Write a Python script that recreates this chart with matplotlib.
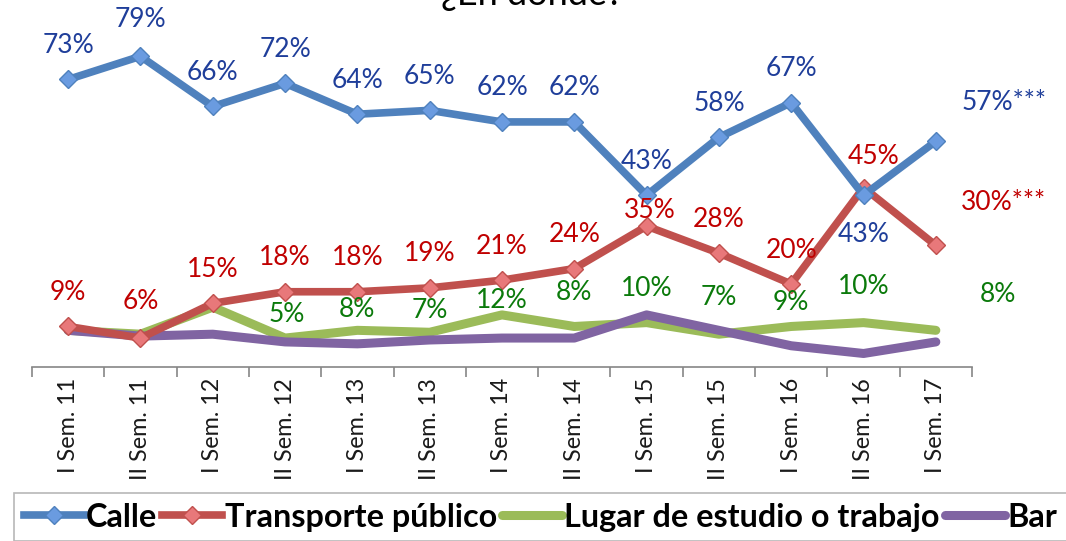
import matplotlib
matplotlib.use("Agg")
import matplotlib.pyplot as plt
from matplotlib.lines import Line2D

plt.rcParams['font.family'] = ['Lato', 'DejaVu Sans']

# data
periodos = ["I Sem. 11", "II Sem. 11", "I Sem. 12", "II Sem. 12", "I Sem. 13",
            "II Sem. 13", "I Sem. 14", "II Sem. 14", "I Sem. 15", "II Sem. 15",
            "I Sem. 16", "II Sem. 16", "I Sem. 17"]
calle = [73, 79, 66, 72, 64, 65, 62, 62, 43, 58, 67, 43, 57]
transporte = [9, 6, 15, 18, 18, 19, 21, 24, 35, 28, 20, 45, 30]
estudio = [8, 7, 14, 6, 8, 7.5, 12, 9, 10, 7, 9, 10, 8]
bar = [8, 6.5, 7, 5, 4.5, 5.5, 6, 6, 12, 8, 4, 2, 5]

calle_lbl = ["73%", "79%", "66%", "72%", "64%", "65%", "62%", "62%", "43%",
             "58%", "67%", "43%", "57%***"]
transp_lbl = ["9%", "6%", "15%", "18%", "18%", "19%", "21%", "24%", "35%",
              "28%", "20%", "45%", "30%***"]
estudio_lbl = ["", "", "", "5%", "8%", "7%", "12%", "8%", "10%", "7%",
               "9%", "10%", "8%"]

# label offsets in pixels (dx, dy up)
calle_off = [(0, 34)] * 13
calle_off[1] = (0, 37)
calle_off[11] = (0, -39)
calle_off[12] = (68, 39)
transp_off = [(0, 34)] * 13
transp_off[1] = (0, 37)
transp_off[8] = (3, 16)
transp_off[11] = (10, 31)
transp_off[12] = (68, 43)
estudio_off = [(0, 24), (0, 24), (0, 24), (2, 24), (0, 21), (0, 22), (0, 14),
               (0, 34), (0, 34), (0, 37), (0, 24), (0, 36), (62, 36)]

W, H = 1066, 541
fig = plt.figure(figsize=(W / 100, H / 100), dpi=100)
ax = fig.add_axes([32 / W, 1 - 367 / H, 940 / W, 357 / H])
x = list(range(len(periodos)))

ax.plot(x, calle, color='#4F81BD', lw=5.5, marker='D', ms=9,
        mfc='#6A9BE0', mec='#4F81BD', mew=1, solid_joinstyle='miter', zorder=4)
ax.plot(x, transporte, color='#C0504D', lw=5.5, marker='D', ms=9,
        mfc='#E8787A', mec='#C0504D', mew=1, solid_joinstyle='miter', zorder=3)
ax.plot(x, estudio, color='#9BBB59', lw=6.5, solid_capstyle='round', zorder=2)
ax.plot(x, bar, color='#8064A2', lw=6.5, solid_capstyle='round', zorder=2.5)


def etiquetas(vals, lbls, offs, color):
    for i, (v, t, o) in enumerate(zip(vals, lbls, offs)):
        if not t:
            continue
        ax.annotate(t, (i, v), xytext=(o[0] * 0.72, o[1] * 0.72),
                    textcoords='offset points', ha='center', va='center',
                    fontsize=19, color=color, zorder=6, annotation_clip=False)


etiquetas(calle, calle_lbl, calle_off, '#1F3E9A')
etiquetas(transporte, transp_lbl, transp_off, '#C00000')
etiquetas(estudio, estudio_lbl, estudio_off, '#0B7A0B')

ax.set_xlim(-0.5, len(periodos) - 0.5)
ax.set_ylim(-1.5, 91)
for s in ['top', 'right', 'left']:
    ax.spines[s].set_visible(False)
ax.spines['bottom'].set_color('#868686')
ax.spines['bottom'].set_linewidth(1.2)
ax.set_yticks([])
ax.set_xticks(x)
ax.set_xticklabels(periodos, rotation=90, fontsize=16.8, color='#1a1a1a')
ax.tick_params(axis='x', which='major', length=0, pad=8)
ax.set_xticks([i - 0.5 for i in range(len(periodos) + 1)], minor=True)
ax.tick_params(axis='x', which='minor', length=7, width=1.2, color='#868686')

# title, cut at the top edge as in the source
fig.text(532 / W, 1 - 5 / H, "¿En dónde?", fontsize=26, ha='center',
         va='baseline', color='black')

handles = [
    Line2D([], [], color='#4F81BD', lw=5.5, marker='D', ms=9, mfc='#6A9BE0', mec='#4F81BD'),
    Line2D([], [], color='#C0504D', lw=5.5, marker='D', ms=9, mfc='#E8787A', mec='#C0504D'),
    Line2D([], [], color='#9BBB59', lw=6.5, solid_capstyle='round'),
    Line2D([], [], color='#8064A2', lw=6.5, solid_capstyle='round'),
]
nombres = ["Calle", "Transporte público", "Lugar de estudio o trabajo", "Bar"]
leg = fig.legend(handles, nombres, loc='upper left', ncol=4,
                 bbox_to_anchor=(14 / W, 1 - 493 / H),
                 prop={'weight': 'bold', 'size': 23.3}, frameon=True, fancybox=False,
                 handlelength=1.85, handletextpad=0.08, columnspacing=0.15,
                 borderpad=0.3, borderaxespad=0)
leg.get_frame().set_edgecolor('#A6A6A6')
leg.get_frame().set_linewidth(1.2)

fig.savefig("out.png", dpi=100)
